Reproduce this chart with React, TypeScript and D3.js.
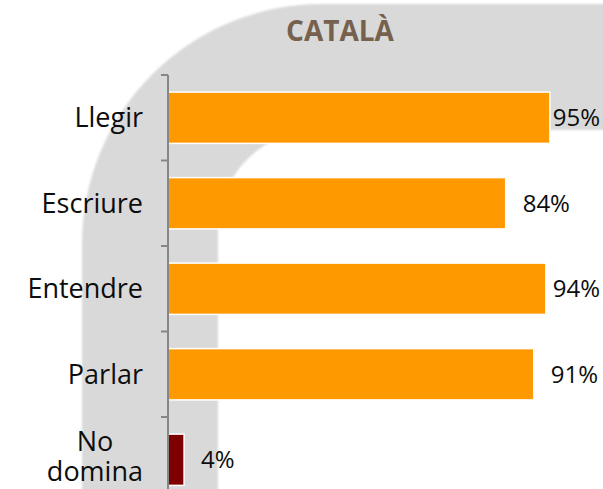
import React, { useRef, useEffect } from 'react';
import * as d3 from 'd3';

// tamanho fixo do quadro
const width = 603;
const height = 489;

const categories = ['Llegir', 'Escriure', 'Entendre', 'Parlar', 'No domina'];
const values = [95, 84, 94, 91, 4];
const barColors = ['#FF9900', '#FF9900', '#FF9900', '#FF9900', '#7F0000'];
const title = 'CATALÀ';

const font = "'Open Sans', 'DejaVu Sans', sans-serif";

export default function App() {
  const svgRef = useRef<SVGSVGElement | null>(null);

  useEffect(() => {
    if (!svgRef.current) return;
    const svg = d3.select(svgRef.current);
    svg.selectAll('*').remove();

    const x = d3.scaleLinear().domain([0, 100]).range([168, 570]);
    const y = d3.scaleBand<string>()
      .domain(categories)
      .range([75, 502.5])
      .paddingInner(0.4)
      .paddingOuter(0.2);

    // faixa cinza decorativa ao fundo
    const defs = svg.append('defs');
    defs.append('filter').attr('id', 'soft')
      .append('feGaussianBlur').attr('stdDeviation', 0.8);

    const bg = d3.path();
    bg.moveTo(82, 520);
    bg.lineTo(82, 244);
    bg.arcTo(82, 4, 322, 4, 240);
    bg.lineTo(620, 4);
    bg.lineTo(620, 130);
    bg.lineTo(318, 130);
    bg.arcTo(218, 130, 218, 230, 100);
    bg.lineTo(218, 520);
    bg.closePath();
    svg.append('path')
      .attr('d', bg.toString())
      .attr('fill', '#d9d9d9')
      .attr('filter', 'url(#soft)');

    // barras
    svg.append('g').selectAll('rect')
      .data(categories)
      .enter()
      .append('rect')
      .attr('x', x(0))
      .attr('y', d => y(d)!)
      .attr('width', (d, i) => x(values[i]) - x(0))
      .attr('height', y.bandwidth())
      .attr('fill', (d, i) => barColors[i])
      .attr('stroke', '#fff')
      .attr('stroke-width', 1.5);

    // eixo vertical com ticks entre categorias
    const axis = svg.append('g').attr('stroke', '#868686').attr('stroke-width', 2);
    axis.append('line')
      .attr('x1', x(0)).attr('x2', x(0))
      .attr('y1', 75).attr('y2', 502.5);
    const step = y.step();
    d3.range(categories.length + 1).forEach(i => {
      const ty = 75 + i * step;
      axis.append('line')
        .attr('x1', x(0) - 7).attr('x2', x(0))
        .attr('y1', ty).attr('y2', ty);
    });

    // rótulos das categorias (quebra em duas linhas quando tem espaço)
    const labelRight = 143;
    categories.forEach(c => {
      const cy = y(c)! + y.bandwidth() / 2;
      const lines = c.includes(' ') ? c.split(' ') : [c];
      if (lines.length === 1) {
        svg.append('text')
          .attr('font-family', font)
          .attr('font-size', 27)
          .attr('fill', '#0d0d0d')
          .attr('x', labelRight).attr('y', cy).attr('dy', '0.35em')
          .attr('text-anchor', 'end').text(c);
      } else {
        const texts = lines.map((l, i) => svg.append('text')
          .attr('font-family', font)
          .attr('font-size', 27)
          .attr('fill', '#0d0d0d')
          .attr('text-anchor', 'middle')
          .attr('y', cy - 3 + (i - (lines.length - 1) / 2) * 30)
          .attr('dy', '0.35em')
          .text(l));
        const maxW = d3.max(texts, s => (s.node() as SVGTextContentElement).getComputedTextLength()) || 0;
        texts.forEach(s => s.attr('x', labelRight - maxW / 2));
      }
    });

    // rótulos de valor (presos dentro da área do gráfico)
    categories.forEach((c, i) => {
      const cy = y(c)! + y.bandwidth() / 2;
      const t = svg.append('text')
        .attr('font-family', font)
        .attr('font-size', 24)
        .attr('fill', '#0d0d0d')
        .attr('y', cy)
        .attr('dy', '0.35em')
        .text(`${values[i]}%`);
      const w = (t.node() as SVGTextContentElement).getComputedTextLength();
      t.attr('x', Math.min(x(values[i]) + 17, 600 - w));
    });

    // título
    svg.append('text')
      .attr('x', 340)
      .attr('y', 41)
      .attr('text-anchor', 'middle')
      .attr('font-family', font)
      .attr('font-weight', 'bold')
      .attr('font-size', 28)
      .attr('fill', '#76614f')
      .text(title);
  }, []);

  return (
    <div style={{ position: 'fixed', left: 0, top: 0, width, height, background: '#fff', overflow: 'hidden' }}>
      <svg ref={svgRef} width={width} height={height}></svg>
    </div>
  );
}
